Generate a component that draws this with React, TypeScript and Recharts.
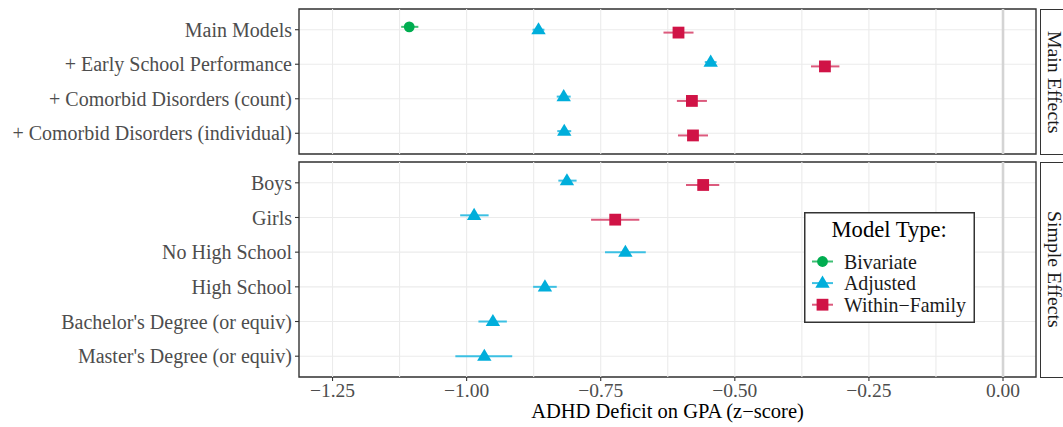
import React from 'react';
import { ScatterChart, Scatter, XAxis, YAxis, CartesianGrid, ReferenceLine, ReferenceArea, ErrorBar, Legend } from 'recharts';

// ---------- data ----------
const mainCategories = ['Main Models', '+ Early School Performance', '+ Comorbid Disorders (count)', '+ Comorbid Disorders (individual)'];
const simpleCategories = ['Boys', 'Girls', 'No High School', 'High School', "Bachelor's Degree (or equiv)", "Master's Degree (or equiv)"];
const seriesNames = ['Bivariate', 'Adjusted', 'Within\u2212Family'];
const facetLabels = ['Main Effects', 'Simple Effects'];

const mainBivariate = [-1.107, null, null, null];
const mainBivariateLow = [-1.122, null, null, null];
const mainBivariateHigh = [-1.09, null, null, null];
const mainAdjusted = [-0.866, -0.545, -0.819, -0.818];
const mainAdjustedLow = [-0.877, -0.556, -0.832, -0.831];
const mainAdjustedHigh = [-0.855, -0.534, -0.806, -0.805];
const mainWithin = [-0.605, -0.332, -0.58, -0.578];
const mainWithinLow = [-0.633, -0.358, -0.608, -0.606];
const mainWithinHigh = [-0.577, -0.305, -0.552, -0.55];

const simpleBivariate = [null, null, null, null, null, null];
const simpleAdjusted = [-0.813, -0.986, -0.704, -0.854, -0.951, -0.967];
const simpleAdjustedLow = [-0.829, -1.012, -0.742, -0.876, -0.978, -1.021];
const simpleAdjustedHigh = [-0.795, -0.959, -0.666, -0.832, -0.925, -0.915];
const simpleWithin = [-0.559, -0.723, null, null, null, null];
const simpleWithinLow = [-0.591, -0.768, null, null, null, null];
const simpleWithinHigh = [-0.529, -0.678, null, null, null, null];

const xTicks = [-1.25, -1, -0.75, -0.5, -0.25, 0];
const xMinorGrid = [-1.125, -0.875, -0.625, -0.375, -0.125];
const xDomain: [number, number] = [-1.3125, 0.0615];

// ---------- styling ----------
const FONT = '"Liberation Serif", "Times New Roman", serif';
const colors = ['#00ad50', '#00aedb', '#d01346'];
const errColors = ['#3fbf74', '#3cc0e3', '#dc5a7d'];
const W = 1063;
const PLOT_LEFT = 299;
const PLOT_RIGHT_MARGIN = 27;
const dodgeWidth = 0.25;

type V = number | null;

function buildPanel(est: V[][], lo: V[][], hi: V[][], nRows: number) {
  return est.map((e, g) => {
    const pts: { x: number; y: number; err: number[] }[] = [];
    for (let r = 0; r < nRows; r++) {
      const v = e[r];
      if (v == null) continue;
      const present = est.map((s, gi) => (s[r] != null ? gi : -1)).filter((i) => i >= 0);
      const n = present.length;
      const k = present.indexOf(g);
      const off = n > 1 ? -dodgeWidth / 2 + ((k + 0.5) * dodgeWidth) / n : 0;
      pts.push({ x: v, y: r + off, err: [v - (lo[g][r] as number), (hi[g][r] as number) - v] });
    }
    return pts;
  });
}

const mainData = buildPanel(
  [mainBivariate, mainAdjusted, mainWithin],
  [mainBivariateLow, mainAdjustedLow, mainWithinLow],
  [mainBivariateHigh, mainAdjustedHigh, mainWithinHigh],
  mainCategories.length
);
const simpleData = buildPanel(
  [simpleBivariate, simpleAdjusted, simpleWithin],
  [simpleBivariate, simpleAdjustedLow, simpleWithinLow],
  [simpleBivariate, simpleAdjustedHigh, simpleWithinHigh],
  simpleCategories.length
);

const CircleShape = (p: any) => <circle cx={p.cx} cy={p.cy} r={5.4} fill={colors[0]} />;
const TriangleShape = (p: any) => (
  <polygon points={`${p.cx},${p.cy - 7.5} ${p.cx - 7.2},${p.cy + 4.6} ${p.cx + 7.2},${p.cy + 4.6}`} fill={colors[1]} />
);
const SquareShape = (p: any) => <rect x={p.cx - 5.9} y={p.cy - 5.9} width={11.8} height={11.8} fill={colors[2]} />;
const shapes = [CircleShape, TriangleShape, SquareShape];

const fmt = (v: number) => (v < 0 ? '\u2212' + Math.abs(v).toFixed(2) : v.toFixed(2));

const tickStyle = { fill: '#4d4d4d', fontSize: 20, fontFamily: FONT };

function LegendBox() {
  const items = seriesNames.map((name, i) => {
    const cy = 49.5 + i * 21.6;
    const Shape = shapes[i];
    return (
      <g key={name}>
        <line x1={8} x2={29} y1={cy} y2={cy} stroke={errColors[i]} strokeWidth={2} />
        <Shape cx={18.5} cy={cy} />
        <text x={40} y={cy} dominantBaseline="central" fontSize={19.9} fontFamily={FONT} fill="#1a1a1a">
          {name}
        </text>
      </g>
    );
  });
  return (
    <svg width={171} height={111} style={{ display: 'block' }}>
      <rect x={0.75} y={0.75} width={169.5} height={109.5} fill="#fff" stroke="#333" strokeWidth={1.5} />
      <text x={27.5} y={17} dominantBaseline="central" fontSize={22.6} fontFamily={FONT} fill="#000">
        Model Type:
      </text>
      {items}
    </svg>
  );
}

function Panel({
  data,
  categories,
  top,
  height,
  plotBottom,
  showX,
  showLegend,
}: {
  data: { x: number; y: number; err: number[] }[][];
  categories: string[];
  top: number;
  height: number;
  plotBottom: number;
  showX: boolean;
  showLegend: boolean;
}) {
  const yDomain: [number, number] = [-0.6, categories.length - 1 + 0.6];
  const yTicks = categories.map((_, i) => i);
  const xAxisHeight = showX ? height - plotBottom : 0;
  return (
    <div style={{ position: 'absolute', left: 0, top: 0 }}>
      <ScatterChart
        width={W}
        height={height}
        margin={{ top, right: PLOT_RIGHT_MARGIN, left: 0, bottom: showX ? 0 : height - plotBottom }}
      >
        <CartesianGrid vertical={false} stroke="#ebebeb" strokeWidth={1.1} />
        {xMinorGrid.concat(xTicks).map((v) => (
          <ReferenceLine key={'g' + v} x={v} stroke="#ebebeb" strokeWidth={v === 0 ? 0 : 1.1} />
        ))}
        <ReferenceLine x={0} stroke="#d4d4d4" strokeWidth={2.6} />
        <XAxis
          type="number"
          dataKey="x"
          domain={xDomain}
          allowDataOverflow
          ticks={xTicks}
          tickFormatter={fmt}
          hide={!showX}
          height={xAxisHeight || 1}
          axisLine={false}
          tickLine={{ stroke: '#333', strokeWidth: 1.1 }}
          tickSize={4}
          tickMargin={2}
          tick={{ ...tickStyle, fontSize: 19.5 }}
          interval={0}
          label={
            showX
              ? { value: 'ADHD Deficit on GPA (z\u2212score)', position: 'insideBottom', offset: 9, style: { fontSize: 20.5, fontFamily: FONT, fill: '#000' } }
              : undefined
          }
        />
        <YAxis
          type="number"
          dataKey="y"
          domain={yDomain}
          allowDataOverflow
          reversed
          ticks={yTicks}
          tickFormatter={(i: number) => categories[i] ?? ''}
          width={PLOT_LEFT}
          axisLine={false}
          tickLine={{ stroke: '#333', strokeWidth: 1.1 }}
          tickSize={4}
          tickMargin={3}
          tick={tickStyle}
          interval={0}
        />
        {data.map((pts, g) =>
          pts.length ? (
            <Scatter key={seriesNames[g]} name={seriesNames[g]} data={pts} shape={shapes[g]} isAnimationActive={false}>
              <ErrorBar dataKey="err" direction="x" width={0} stroke={errColors[g]} strokeWidth={2} isAnimationActive={false} />
            </Scatter>
          ) : null
        )}
        <ReferenceArea x1={xDomain[0]} x2={xDomain[1]} y1={yDomain[0]} y2={yDomain[1]} fill="none" stroke="#333" strokeWidth={1.4} ifOverflow="visible" />
        {showLegend && (
          <Legend
            layout="vertical"
            align="center"
            verticalAlign="middle"
            content={() => <LegendBox />}
            wrapperStyle={{ position: 'absolute', left: 804, top: 211.5, width: 171, height: 111 }}
          />
        )}
      </ScatterChart>
    </div>
  );
}

function Strip({ label, top, height }: { label: string; top: number; height: number }) {
  return (
    <div
      style={{
        position: 'absolute',
        left: 1040,
        top,
        width: 29,
        height,
        boxSizing: 'border-box',
        border: '1.4px solid #333',
        background: '#fff',
        display: 'flex',
        alignItems: 'center',
        justifyContent: 'center',
      }}
    >
      <span style={{ writingMode: 'vertical-rl', fontFamily: FONT, fontSize: 19.8, color: '#1a1a1a', whiteSpace: 'nowrap', lineHeight: 1 }}>
        {label}
      </span>
    </div>
  );
}

export default function App() {
  return (
    <div style={{ position: 'absolute', left: 0, top: 0, width: W, height: 427, overflow: 'hidden', background: '#fff' }}>
      <Panel data={mainData} categories={mainCategories} top={9} height={160} plotBottom={154} showX={false} showLegend={false} />
      <Panel data={simpleData} categories={simpleCategories} top={162} height={427} plotBottom={377} showX={true} showLegend={true} />
      <Strip label={facetLabels[0]} top={8.5} height={146.5} />
      <Strip label={facetLabels[1]} top={161.5} height={216.5} />
    </div>
  );
}
